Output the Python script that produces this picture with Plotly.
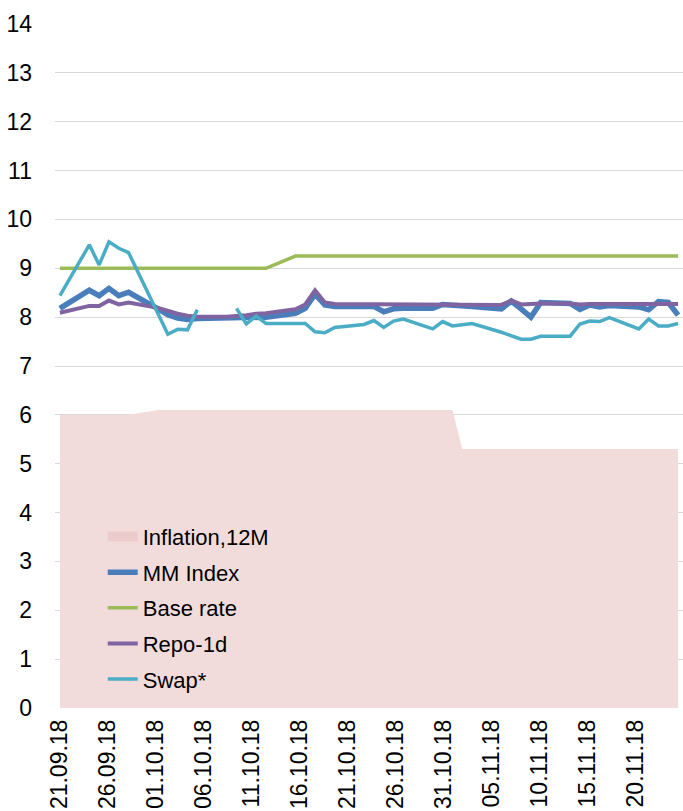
import plotly.graph_objects as go

dates = [
    "2018-09-21", "2018-09-24", "2018-09-25", "2018-09-26", "2018-09-27", "2018-09-28",
    "2018-10-01", "2018-10-02", "2018-10-03", "2018-10-04", "2018-10-05",
    "2018-10-08", "2018-10-09", "2018-10-10", "2018-10-11", "2018-10-12",
    "2018-10-15", "2018-10-16", "2018-10-17", "2018-10-18", "2018-10-19",
    "2018-10-22", "2018-10-23", "2018-10-24", "2018-10-25", "2018-10-26",
    "2018-10-29", "2018-10-30", "2018-10-31",
    "2018-11-01", "2018-11-02",
    "2018-11-05", "2018-11-06", "2018-11-07", "2018-11-08", "2018-11-09",
    "2018-11-12", "2018-11-13", "2018-11-14", "2018-11-15", "2018-11-16",
    "2018-11-19", "2018-11-20", "2018-11-21", "2018-11-22", "2018-11-23",
]

inflation = [6.0] * 6 + [6.1] * 23 + [5.3] * 17

mm_index = [
    8.18, 8.55, 8.44, 8.59, 8.44, 8.51,
    8.17, 8.05, 7.98, 7.95, 7.97,
    7.99, 8.00, 8.01, 8.02, 8.00,
    8.08, 8.18, 8.47, 8.25, 8.22,
    8.22, 8.22, 8.11, 8.17, 8.18,
    8.18, 8.26, 8.25,
    8.24, 8.22,
    8.17, 8.33, 8.17, 8.00, 8.30,
    8.28, 8.16, 8.25, 8.21, 8.24,
    8.21, 8.15, 8.32, 8.30, 8.04,
]

base_rate = [9.0] * 16 + [9.25] * 30

repo_1d = [
    8.09, 8.23, 8.23, 8.34, 8.26, 8.30,
    8.19, 8.12, 8.07, 8.03, 8.01,
    8.01, 8.02, 8.04, 8.07, 8.08,
    8.16, 8.26, 8.55, 8.30, 8.27,
    8.27, 8.27, 8.26, 8.26, 8.26,
    8.26, 8.27, 8.26,
    8.26, 8.25,
    8.25, 8.34, 8.26, 8.27, 8.28,
    8.28, 8.26, 8.27, 8.26, 8.27,
    8.27, 8.27, 8.28, 8.27, 8.27,
]

swap = [
    8.44, 9.48, 9.07, 9.54, 9.41, 9.32,
    8.07, 7.65, 7.75, 7.74, 8.15,
    None, 8.18, 7.86, 8.02, 7.87,
    7.87, 7.87, 7.70, 7.68, 7.79,
    7.85, 7.93, 7.79, 7.92, 7.96,
    7.76, 7.91, 7.82,
    7.84, 7.87,
    7.69, 7.62, 7.55, 7.55, 7.61,
    7.61, 7.86, 7.92, 7.91, 7.99,
    7.76, 7.96, 7.82, 7.82, 7.87,
]

tick_dates = [
    "2018-09-21", "2018-09-26", "2018-10-01", "2018-10-06", "2018-10-11",
    "2018-10-16", "2018-10-21", "2018-10-26", "2018-10-31", "2018-11-05",
    "2018-11-10", "2018-11-15", "2018-11-20",
]
tick_labels = [
    "21.09.18", "26.09.18", "01.10.18", "06.10.18", "11.10.18",
    "16.10.18", "21.10.18", "26.10.18", "31.10.18", "05.11.18",
    "10.11.18", "15.11.18", "20.11.18",
]

FONT = "Liberation Sans, Arial, sans-serif"
FS = 23

fig = go.Figure()
fig.add_trace(go.Scatter(x=dates, y=inflation, name="Inflation,12M", mode="lines",
                         fill="tozeroy", fillcolor="#F2DCDB", showlegend=False,
                         line=dict(width=0, color="#F2DCDB")))
# legend entry for the inflation area (no data drawn)
fig.add_trace(go.Scatter(x=[None], y=[None], name="Inflation,12M", mode="lines",
                         legendgroup="g1",
                         line=dict(width=15, color="#EBCBCB")))
fig.add_trace(go.Scatter(x=dates, y=mm_index, name="MM Index", mode="lines",
                         legendgroup="g2",
                         line=dict(width=5.5, color="#4A7EBB")))
fig.add_trace(go.Scatter(x=dates, y=base_rate, name="Base rate", mode="lines",
                         legendgroup="g3",
                         line=dict(width=3.5, color="#9BBB59")))
fig.add_trace(go.Scatter(x=dates, y=repo_1d, name="Repo-1d", mode="lines",
                         legendgroup="g4",
                         line=dict(width=4, color="#8064A2")))
fig.add_trace(go.Scatter(x=dates, y=swap, name="Swap*", mode="lines",
                         connectgaps=False, legendgroup="g5",
                         line=dict(width=3.5, color="#4BACC6")))
# axis carrier for the date tick labels (no visible marks)
fig.add_trace(go.Scatter(x=tick_dates, y=[None] * len(tick_dates), xaxis="x2",
                         mode="lines", showlegend=False, hoverinfo="skip"))

fig.update_layout(
    width=683, height=811,
    margin=dict(l=55, r=0, t=24, b=103),
    paper_bgcolor="white", plot_bgcolor="white",
    font=dict(family=FONT, size=FS, color="black"),
    xaxis=dict(type="date", range=["2018-09-20 12:00", "2018-11-23 12:00"],
               showticklabels=False, showgrid=False, zeroline=False, showline=False,
               automargin=False),
    xaxis2=dict(type="date", overlaying="x", anchor="y", side="bottom",
                range=["2018-09-20 12:00", "2018-11-25 00:00"],
                tickmode="array", tickvals=tick_dates, ticktext=tick_labels,
                tickangle=-90, showgrid=False, zeroline=False, showline=False,
                ticks="", ticklabelstandoff=6, automargin=False,
                tickfont=dict(family=FONT, size=FS, color="black")),
    yaxis=dict(range=[0, 14], dtick=1, tick0=0, showgrid=True, gridcolor="#D9D9D9",
               gridwidth=1, zeroline=False, showline=False, ticks="",
               ticklabelstandoff=22, automargin=False,
               tickfont=dict(family=FONT, size=FS, color="black")),
    legend=dict(x=0.076, y=0.281, xanchor="left", yanchor="top",
                bgcolor="rgba(0,0,0,0)", borderwidth=0, tracegroupgap=4,
                font=dict(family=FONT, size=22, color="black")),
    showlegend=True,
)

fig.write_html("out.html", config={"displayModeBar": False},
               post_script="document.body.style.margin='0';document.body.style.padding='0';")
